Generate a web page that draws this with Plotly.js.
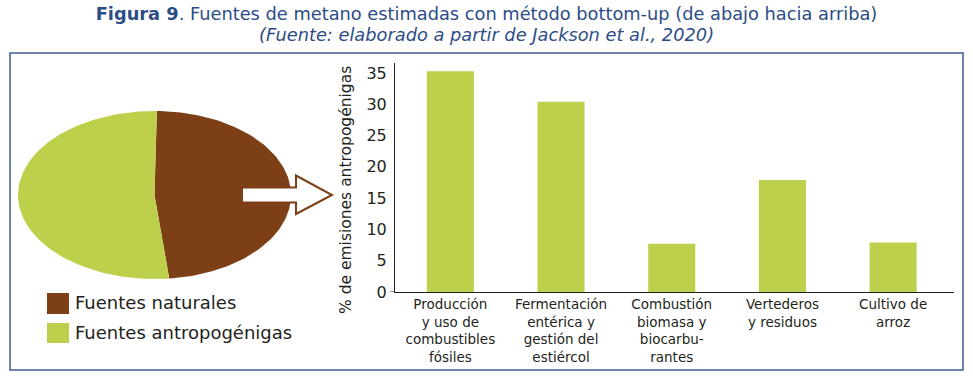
<!DOCTYPE html>
<html>
<head>
<meta charset="utf-8">
<script src="https://cdn.plot.ly/plotly-3.0.1.min.js"></script>
<style>html,body{margin:0;padding:0;background:#fff;}#chart{width:973px;height:380px;}</style>
</head>
<body>
<div id="chart"></div>
<script>
// ---- data ----
var pieLabels = ["Fuentes naturales", "Fuentes antropogénigas"];
var pieValues = [48, 52];
var pieColors = ["#7c3f16", "#bdcf4b"];

var barCategories = [
  "Producción<br>y uso de<br>combustibles<br>fósiles",
  "Fermentación<br>entérica y<br>gestión del<br>estiércol",
  "Combustión<br>biomasa y<br>biocarbu-<br>rantes",
  "Vertederos<br>y residuos",
  "Cultivo de<br>arroz"
];
var barValues = [35.3, 30.4, 7.7, 17.9, 7.9];
var yTickVals = [0, 5, 10, 15, 20, 25, 30, 35];
var yTitle = "% de emisiones antropogénigas";
var titleLine1 = "<b>Figura 9</b>. Fuentes de metano estimadas con método bottom-up (de abajo hacia arriba)";
var titleLine2 = "<i>(Fuente: elaborado a partir de Jackson et al., 2020)</i>";

// ---- helpers ----
var W = 973, H = 380;
function px(x){ return x / W; }
function py(y){ return 1 - y / H; }

var FONT = "DejaVu Sans, sans-serif";
var TXT = "#231f20";
var BLUE = "#2c4c86";

// pie drawn as stretched (elliptical) slices on a hidden axis
var total = pieValues.reduce(function(a,b){return a+b;},0);
var rotationDeg = 1;
var traces = [];
var start = rotationDeg;
for (var i = 0; i < pieValues.length; i++) {
  var sweep = pieValues[i] / total * 360;
  var xs = [0], ys = [0];
  var n = 120;
  for (var k = 0; k <= n; k++) {
    var a = (start + sweep * k / n) * Math.PI / 180;
    xs.push(Math.sin(a));
    ys.push(Math.cos(a));
  }
  xs.push(0); ys.push(0);
  traces.push({
    type: "scatter", mode: "lines", x: xs, y: ys, fill: "toself",
    fillcolor: pieColors[i], line: {width: 0, color: pieColors[i]},
    xaxis: "x2", yaxis: "y2", showlegend: false, hoverinfo: "skip", name: pieLabels[i]
  });
  start += sweep;
}

traces.push({
  type: "bar", x: barCategories, y: barValues,
  marker: {color: pieColors[1]}, showlegend: false, hoverinfo: "skip"
});

var shapes = [
  // outer frame
  {type: "rect", xref: "paper", yref: "paper", x0: px(10), x1: px(963), y0: py(370), y1: py(53),
   line: {color: "#3c5b98", width: 1.5}, fillcolor: "rgba(0,0,0,0)", layer: "below"},
  // arrow
  {type: "path", xref: "paper", yref: "paper",
   path: "M" + px(242) + "," + py(187.5) + " L" + px(296) + "," + py(187.5) + " L" + px(296) + "," + py(175.5) +
         " L" + px(332) + "," + py(195) + " L" + px(296) + "," + py(214) + " L" + px(296) + "," + py(202.5) +
         " L" + px(242) + "," + py(202.5) + " Z",
   fillcolor: "#ffffff", line: {color: pieColors[0], width: 2}},
  // legend squares
  {type: "rect", xref: "paper", yref: "paper", x0: px(47), x1: px(69), y0: py(314), y1: py(293),
   fillcolor: pieColors[0], line: {width: 0}},
  {type: "rect", xref: "paper", yref: "paper", x0: px(47), x1: px(69), y0: py(343), y1: py(323),
   fillcolor: pieColors[1], line: {width: 0}},
  // small extension of baseline left of y axis
  {type: "line", xref: "paper", yref: "y", x0: px(390), x1: px(395), y0: 0, y1: 0,
   line: {color: TXT, width: 1}}
];

var annotations = [
  {xref: "paper", yref: "paper", x: 0.5, y: py(34), xanchor: "center", yanchor: "middle",
   text: titleLine2, showarrow: false, font: {family: FONT, size: 17.8, color: BLUE}},
  {xref: "paper", yref: "paper", x: px(73), y: py(302), xanchor: "left", yanchor: "middle",
   text: pieLabels[0], showarrow: false, font: {family: FONT, size: 18, color: TXT}},
  {xref: "paper", yref: "paper", x: px(73), y: py(332), xanchor: "left", yanchor: "middle",
   text: pieLabels[1], showarrow: false, font: {family: FONT, size: 18, color: TXT}},
  {xref: "paper", yref: "paper", x: px(346), y: py(190), xanchor: "center", yanchor: "middle",
   text: yTitle, textangle: -90, showarrow: false, font: {family: FONT, size: 15.5, color: TXT}}
];

var layout = {
  width: W, height: H,
  margin: {l: 0, r: 0, t: 0, b: 0},
  paper_bgcolor: "#ffffff", plot_bgcolor: "rgba(0,0,0,0)",
  showlegend: false,
  bargap: 0.575,
  title: {
    text: titleLine1,
    font: {family: FONT, size: 17.8, color: BLUE},
    x: 0.5, xanchor: "center", xref: "paper",
    y: 1 - 14/H, yanchor: "middle", yref: "container"
  },
  xaxis: {
    domain: [px(395), px(954)], range: [-0.5, 4.55], type: "category",
    showline: true, linecolor: TXT, linewidth: 1, ticks: "", showgrid: false, zeroline: false,
    tickfont: {family: FONT, size: 13.5, color: TXT}, fixedrange: true, anchor: "y"
  },
  yaxis: {
    domain: [py(292), py(63)], range: [0, 36.6], tickvals: yTickVals,
    showline: true, linecolor: TXT, linewidth: 1, ticks: "", showgrid: false, zeroline: false,
    tickfont: {family: FONT, size: 16, color: TXT}, ticklabelstandoff: 4,
    fixedrange: true, anchor: "x"
  },
  xaxis2: {domain: [px(18), px(291)], range: [-1, 1], visible: false, anchor: "y2", fixedrange: true},
  yaxis2: {domain: [py(279), py(111)], range: [-1, 1], visible: false, anchor: "x2", fixedrange: true},
  shapes: shapes,
  annotations: annotations
};

Plotly.newPlot("chart", traces, layout, {displayModeBar: false, staticPlot: true});
</script>
</body>
</html>
